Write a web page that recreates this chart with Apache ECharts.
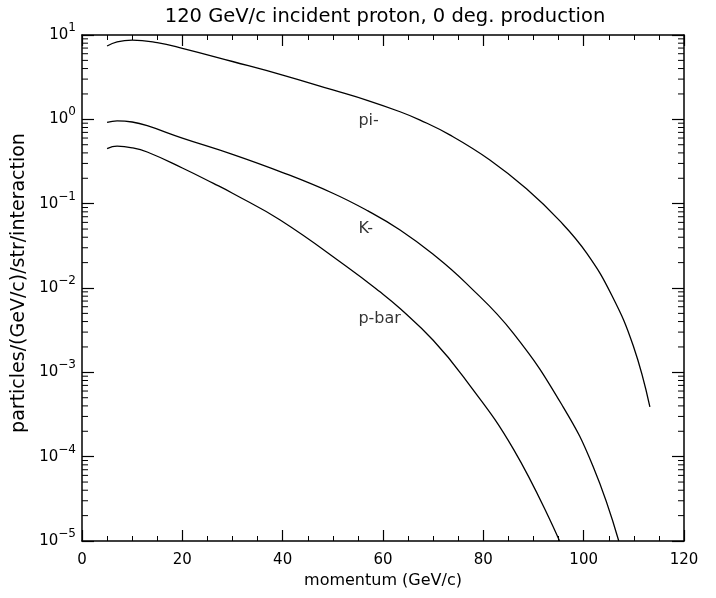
<!DOCTYPE html>
<html>
<head>
<meta charset="utf-8">
<script src="https://cdn.jsdelivr.net/npm/echarts@6/dist/echarts.min.js"></script>
<style>
  html, body { margin: 0; padding: 0; background: #fff; }
  #chart { width: 716px; height: 598px; }
</style>
</head>
<body>
<div id="chart"></div>
<script>
// values: [momentum GeV/c, particles/(GeV/c)/str/interaction]
var piMinus = [
  [5, 7.4], [7, 8.3], [10, 8.7], [15, 8.1], [20, 6.95], [30, 4.85], [40, 3.35],
  [50, 2.23], [57, 1.67], [63.4, 1.23], [67.4, 0.98], [73.4, 0.65], [81.3, 0.33],
  [88.6, 0.15], [95.3, 0.062], [100.6, 0.0259], [105.6, 0.0082], [109.9, 0.00205],
  [113.2, 0.00039]
];
var kMinus = [
  [5, 0.92], [7, 0.96], [10, 0.93], [13, 0.84], [20, 0.6], [30, 0.385], [40, 0.234],
  [50, 0.133], [57, 0.082], [63.4, 0.0488], [70, 0.0251], [76.5, 0.0115], [86, 0.0029],
  [95.9, 0.00039], [101.9, 0.000076], [107, 0.00001]
];
var pBar = [
  [5, 0.45], [7, 0.48], [10, 0.46], [13, 0.41], [20, 0.265], [26.2, 0.174], [30, 0.133],
  [39.5, 0.064], [52.8, 0.0179], [59.4, 0.009], [63.4, 0.0057], [70, 0.0024],
  [76, 0.00089], [86, 0.000123], [95.2, 0.00001]
];
// curve labels [x, y, text]
var curveLabels = [
  [55, 0.955, 'pi-'],
  [55, 0.050, 'K-'],
  [55, 0.0043, 'p-bar']
];

var FONT = 'DejaVu Sans';

// minor ticks of the log axis at 2..9 of every decade
var minorTicks = [];
for (var e = -5; e <= 0; e++) {
  for (var m = 2; m <= 9; m++) {
    minorTicks.push([0, m * Math.pow(10, e)]);
  }
}

var chart = echarts.init(document.getElementById('chart'), null, { renderer: 'canvas' });

var lineStyleAxis = { color: '#000', width: 1.5 };

function xAxisBase(pos, showLabel) {
  return {
    type: 'value',
    position: pos,
    min: 0,
    max: 120,
    interval: 20,
    axisLine: { show: true, onZero: false, lineStyle: lineStyleAxis },
    axisTick: { show: true, inside: true, length: 11, lineStyle: { color: '#000', width: 1.2 } },
    minorTick: { show: true, splitNumber: 4, length: 5, lineStyle: { color: '#000', width: 1 } },
    splitLine: { show: false },
    axisLabel: { show: showLabel, margin: 12, color: '#000', fontFamily: FONT, fontSize: 15 }
  };
}

function yAxisBase(pos, showLabel) {
  return {
    type: 'log',
    logBase: 10,
    position: pos,
    min: 1e-5,
    max: 10,
    splitNumber: 6,
    axisLine: { show: true, onZero: false, lineStyle: lineStyleAxis },
    axisTick: { show: true, inside: true, length: 12, lineStyle: { color: '#000', width: 1.2 } },
    splitLine: { show: false },
    axisLabel: {
      show: showLabel,
      margin: 6,
      formatter: function (v) {
        var ex = Math.round(Math.log10(v));
        var s = ex < 0 ? '\u2212' + (-ex) : '' + ex;
        return '{b|10}{e|' + s + '}';
      },
      rich: {
        b: { fontFamily: FONT, fontSize: 15, color: '#000' },
        e: { fontFamily: FONT, fontSize: 12, color: '#000', padding: [0, 0, 14, 0] }
      }
    }
  };
}

var xBottom = xAxisBase('bottom', true);
xBottom.name = 'momentum (GeV/c)';
xBottom.nameLocation = 'middle';
xBottom.nameGap = 31;
xBottom.nameTextStyle = { fontFamily: FONT, fontSize: 16, color: '#000' };

var yLeft = yAxisBase('left', true);
yLeft.name = 'particles/(GeV/c)/str/interaction';
yLeft.nameLocation = 'middle';
yLeft.nameGap = 53;
// 居中稍微偏上
yLeft.nameTextStyle = { fontFamily: FONT, fontSize: 19, color: '#000', padding: [0, 0, 0, 10] };

function curve(name, data) {
  return {
    name: name,
    type: 'line',
    data: data,
    xAxisIndex: 0,
    yAxisIndex: 0,
    smooth: 0.45,
    showSymbol: false,
    symbol: 'none',
    lineStyle: { color: '#000', width: 1.3 },
    silent: true,
    animation: false
  };
}

var option = {
  backgroundColor: '#fff',
  animation: false,
  title: {
    text: '120 GeV/c incident proton, 0 deg. production',
    left: 380,
    textAlign: 'center',
    top: 2,
    textStyle: { fontFamily: FONT, fontSize: 19.5, fontWeight: 'normal', color: '#000' }
  },
  grid: { left: 82, right: 32, top: 35, bottom: 57, containLabel: false },
  xAxis: [xBottom, xAxisBase('top', false)],
  yAxis: [yLeft, yAxisBase('right', false)],
  series: [
    curve('pi-', piMinus),
    curve('K-', kMinus),
    curve('p-bar', pBar),
    {
      type: 'scatter',
      data: curveLabels,
      symbolSize: 1,
      itemStyle: { color: 'rgba(0,0,0,0)' },
      silent: true,
      label: {
        show: true,
        position: 'right',
        distance: 0,
        formatter: function (p) { return p.value[2]; },
        fontFamily: FONT,
        fontSize: 16,
        color: '#000'
      }
    },
    {
      type: 'custom',
      data: minorTicks,
      silent: true,
      clip: false,
      renderItem: function (params, api) {
        var v = api.value(1);
        var pl = api.coord([0, v]);
        var pr = api.coord([120, v]);
        var st = { stroke: '#000', lineWidth: 1 };
        return {
          type: 'group',
          children: [
            { type: 'line', shape: { x1: pl[0], y1: pl[1], x2: pl[0] + 6, y2: pl[1] }, style: st },
            { type: 'line', shape: { x1: pr[0] - 6, y1: pr[1], x2: pr[0], y2: pr[1] }, style: st }
          ]
        };
      }
    }
  ]
};

chart.setOption(option);
</script>
</body>
</html>
